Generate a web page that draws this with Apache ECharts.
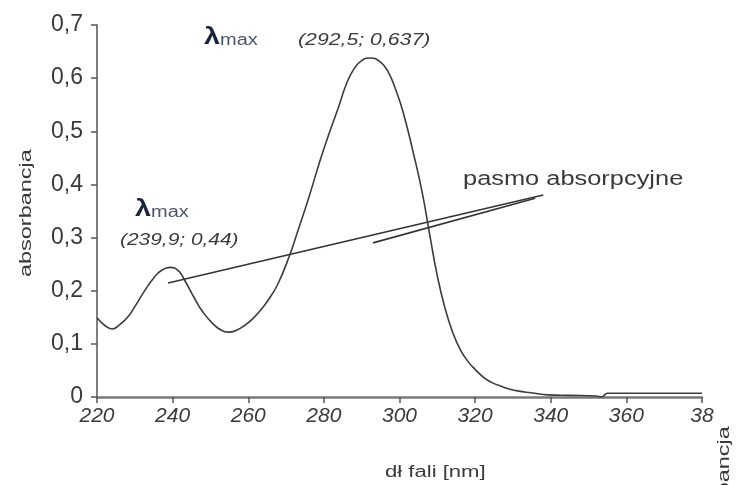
<!DOCTYPE html>
<html>
<head>
<meta charset="utf-8">
<script src="https://cdn.jsdelivr.net/npm/echarts@6/dist/echarts.min.js"></script>
<style>
  html, body { margin: 0; padding: 0; background: #fff; }
  #chart { width: 738px; height: 485px; }
</style>
</head>
<body>
<div id="chart"></div>
<script>
// widmo UV
const wavelength = [
  220, 222, 224, 226, 228.2, 230, 232.7, 235, 237, 239.3, 241.5, 243, 246, 248,
  250.5, 253, 254.8, 257, 259.3, 261, 263.8, 266, 268, 270.7, 273, 276, 279,
  281.5, 284, 286, 288, 290, 292.4, 295, 297, 299, 301, 303.8, 306, 308,
  310, 312, 314, 316, 318, 320, 322.4, 324.5, 326.9, 329, 331.5, 334.8, 339.3,
  345, 352, 353.4, 355, 365, 380
]
const absorbance = [
  0.149, 0.135, 0.128, 0.136, 0.151, 0.170, 0.201, 0.224, 0.238, 0.244, 0.238, 0.222, 0.183, 0.160,
  0.139, 0.125, 0.122, 0.126, 0.136, 0.146, 0.168, 0.190, 0.215, 0.262, 0.310, 0.375, 0.445,
  0.498, 0.548, 0.590, 0.618, 0.633, 0.638, 0.630, 0.612, 0.578, 0.535, 0.455, 0.385, 0.305,
  0.228, 0.168, 0.123, 0.090, 0.068, 0.052, 0.036, 0.027, 0.020, 0.015, 0.011, 0.008, 0.004,
  0.003, 0.002, 0.000, 0.007, 0.007, 0.007
]
const xTickLabels = ['220', '240', '260', '280', '300', '320', '340', '360', '38']
const yTickLabels = ['0', '0,1', '0,2', '0,3', '0,4', '0,5', '0,6', '0,7']

// linie wskazujace "pasmo absorpcyjne" (w jednostkach osi)
const pointerA = [[238.8, 0.2145], [338.0, 0.380]]
const pointerB = [[293.0, 0.290], [335.9, 0.374]]

const font = 'Liberation Sans, Arial, sans-serif'
const textColor = '#3a3a3a'

const chart = echarts.init(document.getElementById('chart'))

const lambdaText = (x, y) => ({
  type: 'text',
  x: x,
  y: y,
  scaleX: 1.25,
  style: {
    text: '{l|λ}{m|max}',
    textVerticalAlign: 'middle',
    rich: {
      l: { fontFamily: font, fontSize: 23, fontWeight: 'bold', fill: '#1c2340' },
      m: { fontFamily: font, fontSize: 16, fill: '#4a5570', padding: [6, 0, 0, 0] }
    }
  }
})

const plainText = (text, x, y, size, scaleX, italic, rotation) => ({
  type: 'text',
  x: x,
  y: y,
  scaleX: scaleX,
  rotation: rotation || 0,
  style: {
    text: text,
    fontFamily: font,
    fontSize: size,
    fontStyle: italic ? 'italic' : 'normal',
    fill: textColor,
    textAlign: 'left',
    textVerticalAlign: 'middle'
  }
})

chart.setOption({
  backgroundColor: '#ffffff',
  animation: false,
  grid: {
    left: 97,
    right: 36,
    top: 25,
    bottom: 88
  },
  xAxis: {
    type: 'value',
    min: 220,
    max: 380,
    interval: 20,
    axisLine: {
      show: true,
      lineStyle: { color: '#7a7a7a', width: 2.5 }
    },
    axisTick: {
      show: true,
      length: 6,
      lineStyle: { color: '#555', width: 1.5 }
    },
    axisLabel: {
      margin: 9,
      fontFamily: font,
      fontStyle: 'italic',
      fontSize: 21,
      color: textColor,
      formatter: v => xTickLabels[Math.round((v - 220) / 20)]
    },
    splitLine: { show: false }
  },
  yAxis: {
    type: 'value',
    min: 0,
    max: 0.7,
    interval: 0.1,
    axisLine: {
      show: true,
      lineStyle: { color: '#555', width: 1.5 }
    },
    axisTick: {
      show: true,
      length: 6,
      lineStyle: { color: '#555', width: 1.5 }
    },
    axisLabel: {
      margin: 14,
      fontFamily: font,
      fontSize: 23,
      color: textColor,
      formatter: v => yTickLabels[Math.round(v * 10)]
    },
    splitLine: { show: false }
  },
  series: [{
    type: 'line',
    data: wavelength.map((w, i) => [w, absorbance[i]]),
    smooth: 0.5,
    showSymbol: false,
    lineStyle: { color: '#3c3c3c', width: 1.6 },
    markLine: {
      silent: true,
      symbol: 'none',
      label: { show: false },
      lineStyle: { color: '#333', width: 1.6, type: 'solid' },
      data: [
        [{ coord: pointerA[0] }, { coord: pointerA[1] }],
        [{ coord: pointerB[0] }, { coord: pointerB[1] }]
      ]
    }
  }],
  graphic: [
    lambdaText(204, 38),
    plainText('(292,5; 0,637)', 298, 40, 17, 1.25, true),
    lambdaText(135, 210),
    plainText('(239,9; 0,44)', 120, 240, 17, 1.23, true),
    plainText('pasmo absorpcyjne', 463, 179, 20, 1.27, false),
    plainText('dł fali [nm]', 385, 473, 16, 1.38, false),
    plainText('absorbancja', 26, 277, 17, 1.38, false, Math.PI / 2),
    plainText('absorbancja', 724, 554, 17, 1.38, false, Math.PI / 2)
  ]
})
</script>
</body>
</html>
